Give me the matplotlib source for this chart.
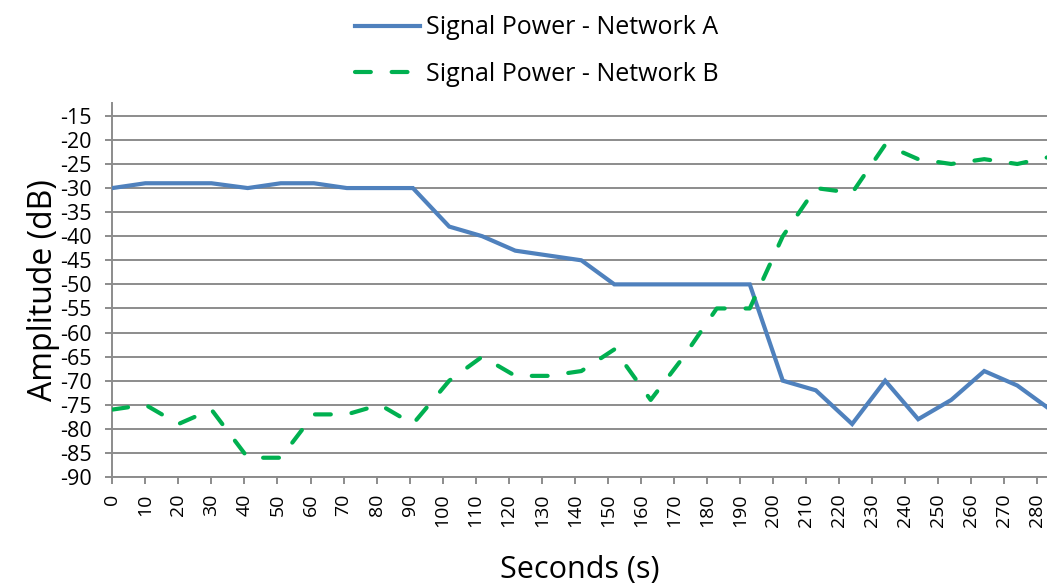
import matplotlib
matplotlib.use("Agg")
import matplotlib.pyplot as plt

# time stamps of the samples (s)
seconds = [0, 10, 20, 30, 41, 51, 61, 71, 81, 91, 102, 112, 122, 132, 142,
           152, 163, 173, 183, 193, 203, 213, 224, 234, 244, 254, 264, 274, 284]

# signal power (dB)
net_a = [-30, -29, -29, -29, -30, -29, -29, -30, -30, -30, -38, -40, -43, -44, -45,
         -50, -50, -50, -50, -50, -70, -72, -79, -70, -78, -74, -68, -71, -76]
net_b = [-76, -75, -79, -76, -86, -86, -77, -77, -75, -79, -70, -65, -69, -69, -68,
         -63.5, -74, -65, -55, -55, -40, -30, -31, -21, -24, -25, -24, -25, -23.5]

xticks = list(range(0, 290, 10))
yticks = list(range(-90, -10, 5))

plt.rcParams['font.family'] = ['Open Sans', 'DejaVu Sans']

fig = plt.figure(figsize=(10.47, 5.87), dpi=100)
ax = fig.add_axes([0.1073, 0.1874, 0.8927, 0.6366])

grid_col = '#8c8c8c'
ax.plot(seconds, net_a, color='#4f81bd', lw=3.0, solid_joinstyle='miter',
        label='Signal Power - Network A', zorder=3)
ax.plot(seconds, net_b, color='#00b050', lw=3.0, dashes=(3.8, 5.0),
        dash_capstyle='round', label='Signal Power - Network B', zorder=3)

ax.set_xlim(0, 283)
ax.set_ylim(-90, -12.4)
ax.set_xticks(xticks)
ax.set_yticks(yticks)
ax.set_xticklabels([str(t) for t in xticks], rotation=90, fontsize=14)
ax.set_yticklabels([str(t) for t in yticks], fontsize=15.5)
ax.yaxis.grid(True, color=grid_col, lw=1.4)
ax.set_axisbelow(True)
for s in ['top', 'right']:
    ax.spines[s].set_visible(False)
for s in ['left', 'bottom']:
    ax.spines[s].set_color(grid_col)
    ax.spines[s].set_linewidth(1.4)
ax.tick_params(axis='both', color=grid_col, width=1.4, length=5)
ax.tick_params(axis='x', pad=7)
ax.tick_params(axis='y', pad=10)

ax.set_xlabel('Seconds (s)', fontsize=22, labelpad=20)
ax.set_ylabel('Amplitude (dB)', fontsize=23, labelpad=0)

fig.legend(loc='upper center', bbox_to_anchor=(0.513, 1.012), frameon=False,
           fontsize=18, handlelength=2.6, handletextpad=0.25, labelspacing=0.85)

plt.savefig('out.png', dpi=100)
